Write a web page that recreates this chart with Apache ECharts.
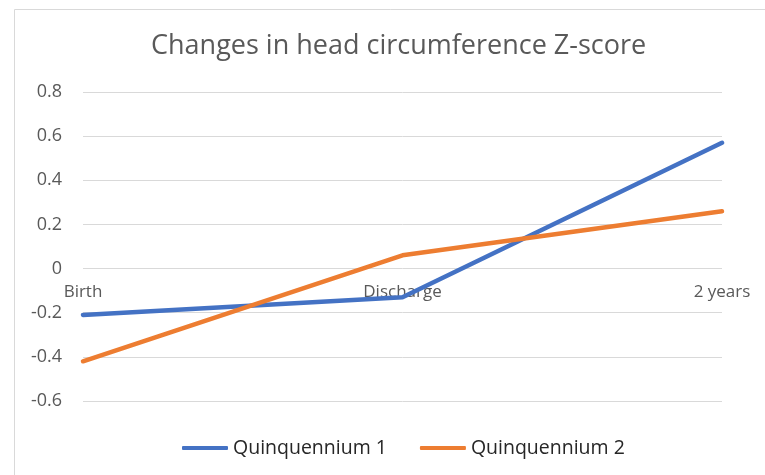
<!DOCTYPE html>
<html>
<head>
<meta charset="utf-8">
<script src="https://cdn.jsdelivr.net/npm/echarts@6/dist/echarts.min.js"></script>
<style>
  html, body { margin: 0; padding: 0; background: #fff; }
  #chart { width: 765px; height: 475px; }
</style>
</head>
<body>
<div id="chart"></div>
<script>
// values
var categories = ['Birth', 'Discharge', '2 years']
var quinquennium1 = [-0.21, -0.13, 0.57]
var quinquennium2 = [-0.42, 0.06, 0.26]
var seriesNames = ['Quinquennium 1', 'Quinquennium 2']

var font = 'Open Sans, Noto Sans, sans-serif'
var myChart = echarts.init(document.getElementById('chart'))

myChart.setOption({
    animation: false,
    textStyle: { fontFamily: font },
    title: {
        text: 'Changes in head circumference Z-score',
        left: 146,
        top: 28,
        textStyle: {
            fontFamily: font,
            fontSize: 27,
            fontWeight: 'normal',
            color: '#595959'
        }
    },
    graphic: [{
        // chart frame
        type: 'rect',
        shape: { x: 14.5, y: 9.5, width: 800, height: 500 },
        style: { fill: 'none', stroke: '#d9d9d9', lineWidth: 1 },
        silent: true
    }],
    legend: {
        bottom: 12,
        left: 177,
        itemWidth: 46,
        itemHeight: 4,
        itemGap: 33,
        icon: 'roundRect',
        textStyle: { fontFamily: font, fontSize: 19.5, color: '#262626', padding: [0, 0, 0, 0] },
        data: seriesNames
    },
    grid: {
        left: 83,
        right: 43,
        top: 92,
        bottom: 74,
        containLabel: false
    },
    xAxis: {
        type: 'category',
        boundaryGap: false,
        data: categories,
        // labels sit just under the zero line
        offset: -132,
        axisLine: { show: false, onZero: false },
        axisTick: { show: false },
        axisLabel: {
            margin: 15,
            fontFamily: font,
            fontSize: 17,
            color: '#595959'
        },
        splitLine: { show: false }
    },
    yAxis: {
        type: 'value',
        min: -0.6,
        max: 0.8,
        interval: 0.2,
        axisLine: { show: false },
        axisTick: { show: false },
        axisLabel: {
            margin: 21,
            fontFamily: font,
            fontSize: 18,
            color: '#595959',
            formatter: function (v) {
                return String(Math.round(v * 10) / 10)
            }
        },
        splitLine: { lineStyle: { color: '#d9d9d9', width: 1 } }
    },
    series: [
        {
            name: seriesNames[0],
            type: 'line',
            data: quinquennium1,
            symbol: 'none',
            color: '#4472c4',
            lineStyle: { width: 4.5, color: '#4472c4', cap: 'round' }
        },
        {
            name: seriesNames[1],
            type: 'line',
            data: quinquennium2,
            symbol: 'none',
            color: '#ed7d31',
            lineStyle: { width: 4.5, color: '#ed7d31', cap: 'round' }
        }
    ]
})
</script>
</body>
</html>
